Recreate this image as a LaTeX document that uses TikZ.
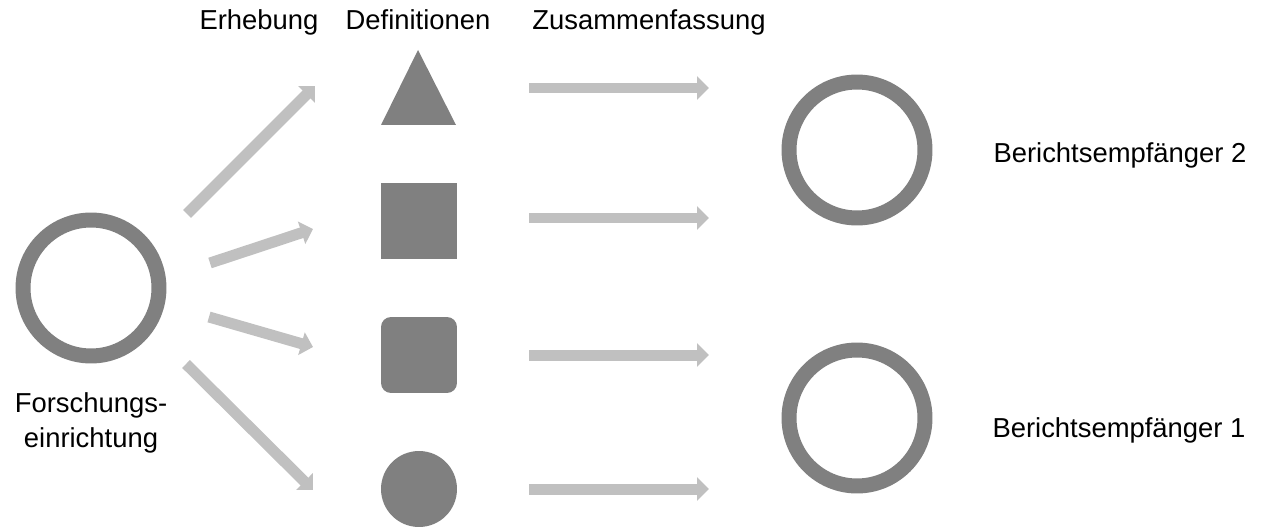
\documentclass[tikz,border=0pt]{standalone}
\usepackage{fontspec}
\setmainfont{Liberation Sans}
\usetikzlibrary{arrows.meta}

\definecolor{shapegray}{HTML}{808080}
\definecolor{arrowgray}{HTML}{C0C0C0}

\tikzset{
    flow/.style={draw=arrowgray, line width=0.22cm, -{Triangle[length=0.24cm,width=0.46cm]}},
    ring/.style={circle, draw=shapegray, line width=0.3cm, minimum size=2.72cm, inner sep=0pt},
    symbol/.style={fill=shapegray, inner sep=0pt, minimum size=1.52cm},
    lbl/.style={font=\fontsize{15.6}{19.5}\selectfont, inner sep=0pt}
}

\begin{document}
\begin{tikzpicture}[x=0.02cm, y=-0.02cm]
                \useasboundingbox (0,0) rectangle (1261,527);

                % column titles
                \node[lbl, anchor=base] (erh) at (259,30) {Erhebung};
                \node[lbl, anchor=base] (def) at (418,30) {Definitionen};
                \node[lbl, anchor=base] (zus) at (649,30) {Zusammenfassung};

                % research institution
                \node[ring] (fe) at (91,288) {};
                \node[lbl, align=center] (fetext) at (91,423) {Forschungs-\\einrichtung};

                % the four definitions
                \fill[shapegray] (418,50) -- (456,125) -- (381,125) -- cycle;
                \node[symbol] (sq) at (419,221) {};
                \node[symbol, rounded corners=0.2cm] (rsq) at (419,355) {};
                \node[symbol, circle] (dot) at (419,489) {};

                % recipients
                \node[ring] (be2) at (857,150) {};
                \node[ring] (be1) at (857,418) {};
                \node[lbl, anchor=base] (be2text) at (1120,162) {Berichtsempfänger 2};
                \node[lbl, anchor=base] (be1text) at (1119,437) {Berichtsempfänger 1};

                % arrow ends
                \coordinate (a1) at (187,214);
                \coordinate (b1) at (315,86);
                \coordinate (a2) at (210,263);
                \coordinate (b2) at (313,229);
                \coordinate (a3) at (209,317);
                \coordinate (b3) at (313,347);
                \coordinate (a4) at (186,364);
                \coordinate (b4) at (313,490);
                \coordinate (c1) at (529,88);
                \coordinate (d1) at (709,88);
                \coordinate (c2) at (529,218);
                \coordinate (d2) at (709,218);
                \coordinate (c3) at (529,355);
                \coordinate (d3) at (709,355);
                \coordinate (c4) at (529,489);
                \coordinate (d4) at (709,489);

                \draw[flow] (a1) -- (b1);
                \draw[flow] (a2) -- (b2);
                \draw[flow] (a3) -- (b3);
                \draw[flow] (a4) -- (b4);
                \draw[flow] (c1) -- (d1);
                \draw[flow] (c2) -- (d2);
                \draw[flow] (c3) -- (d3);
                \draw[flow] (c4) -- (d4);
\end{tikzpicture}
\end{document}
